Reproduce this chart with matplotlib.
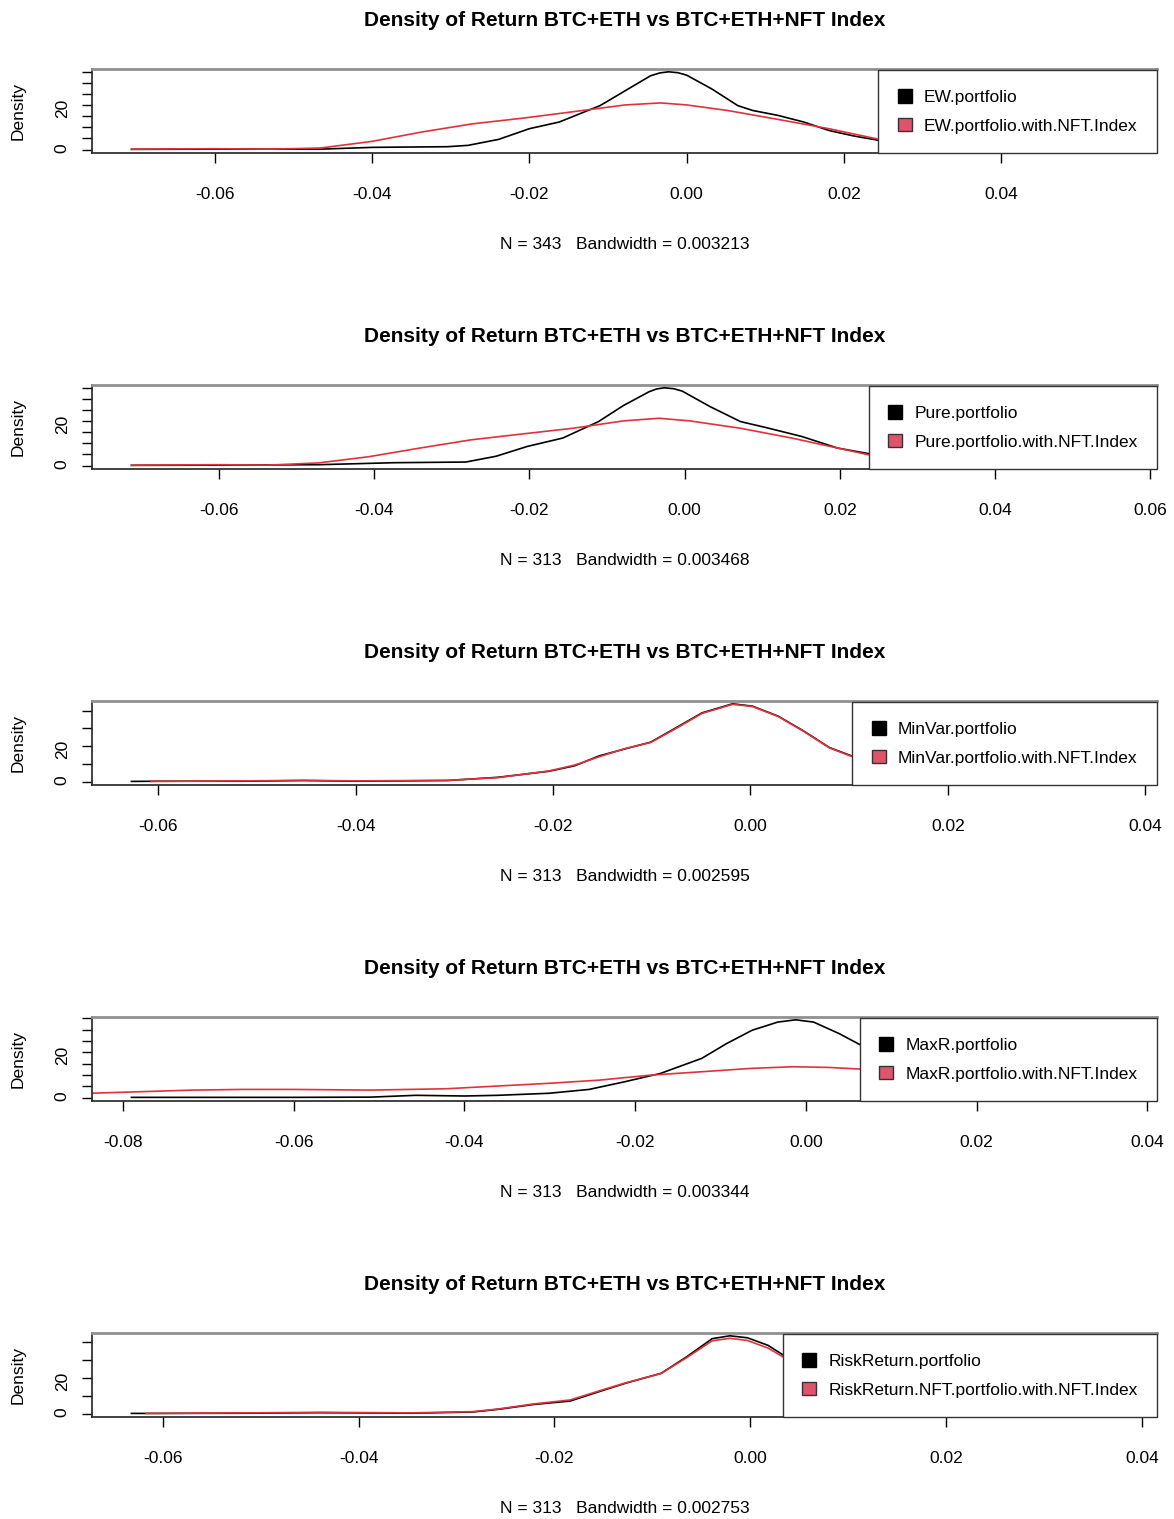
import matplotlib
matplotlib.use('Agg')
import matplotlib.pyplot as plt
from matplotlib.patches import Patch

plt.rcParams['font.family'] = ['Liberation Sans', 'DejaVu Sans']

title = 'Density of Return BTC+ETH vs BTC+ETH+NFT Index'

# EW portfolio
ew_x = [-0.0706, -0.0600, -0.0466, -0.0400, -0.0304, -0.0278, -0.0239, -0.0200, -0.0162, -0.0110,
        -0.0078, -0.0046, -0.0034, -0.0023, -0.0011, 0.0000, 0.0032, 0.0065, 0.0084, 0.0116,
        0.0149, 0.0181, 0.0213, 0.0257, 0.0300, 0.0350, 0.0400, 0.0450, 0.0500, 0.0548]
ew_y = [0.1, 0.2, 0.2, 1.0, 1.3, 1.9, 4.6, 9.4, 12.4, 19.8,
        26.5, 33.2, 34.5, 35.0, 34.6, 33.5, 27.3, 19.8, 17.6, 15.4,
        12.4, 8.6, 6.1, 3.4, 2.0, 1.2, 0.6, 0.3, 0.2, 0.1]
ew_nft_x = [-0.0706, -0.0600, -0.0530, -0.0466, -0.0400, -0.0337, -0.0272, -0.0207, -0.0143, -0.0078,
            -0.0033, 0.0000, 0.0052, 0.0116, 0.0181, 0.0257, 0.0300, 0.0350, 0.0400, 0.0450, 0.0500, 0.0551]
ew_nft_y = [0.2, 0.4, 0.2, 0.7, 3.7, 7.9, 11.6, 14.2, 17.1, 20.1,
            21.0, 20.1, 17.6, 13.6, 9.4, 3.7, 2.2, 1.2, 0.6, 0.3, 0.2, 0.1]

# Pure portfolio
pure_x = [-0.0713, -0.0600, -0.0472, -0.0374, -0.0282, -0.0243, -0.0203, -0.0157, -0.0111, -0.0079,
          -0.0046, -0.0036, -0.0026, -0.0014, -0.0003, 0.0033, 0.0072, 0.0105, 0.0151, 0.0197,
          0.0243, 0.0300, 0.0350, 0.0400, 0.0450, 0.0500, 0.0558]
pure_y = [0.1, 0.2, 0.4, 1.3, 1.6, 4.2, 8.6, 12.4, 19.8, 27.0,
          33.2, 34.5, 35.0, 34.6, 33.5, 26.5, 19.8, 17.1, 13.1, 7.9,
          5.0, 2.4, 1.3, 0.6, 0.3, 0.2, 0.1]
pure_nft_x = [-0.0713, -0.0600, -0.0538, -0.0472, -0.0407, -0.0341, -0.0275, -0.0210, -0.0144, -0.0079,
              -0.0033, 0.0007, 0.0072, 0.0138, 0.0197, 0.0243, 0.0300, 0.0350, 0.0400, 0.0450, 0.0500, 0.0560]
pure_nft_y = [0.2, 0.4, 0.2, 1.2, 4.0, 7.9, 11.6, 14.2, 16.8, 20.1,
              21.3, 20.1, 16.8, 12.4, 7.9, 4.4, 2.2, 1.2, 0.6, 0.3, 0.2, 0.1]

# MinVar portfolio
minvar_x = [-0.0627, -0.0600, -0.0514, -0.0452, -0.0400, -0.0307, -0.0256, -0.0204, -0.0178, -0.0153,
            -0.0127, -0.0101, -0.0075, -0.0049, -0.0018, 0.0002, 0.0028, 0.0054, 0.0080, 0.0111,
            0.0150, 0.0200, 0.0250, 0.0300, 0.0350, 0.0372]
minvar_y = [0.1, 0.2, 0.2, 0.6, 0.2, 0.6, 2.4, 5.8, 8.9, 14.5,
            18.4, 22.2, 30.4, 38.7, 43.8, 42.5, 36.9, 28.5, 19.2, 12.7,
            6.5, 2.5, 1.0, 0.4, 0.1, 0.05]
minvar_nft_x = [-0.0607, -0.0514, -0.0452, -0.0400, -0.0307, -0.0256, -0.0204, -0.0178, -0.0153, -0.0127,
                -0.0101, -0.0075, -0.0049, -0.0018, 0.0002, 0.0028, 0.0054, 0.0080, 0.0111, 0.0150,
                0.0200, 0.0250, 0.0300, 0.0350]
minvar_nft_y = [0.1, 0.4, 0.7, 0.4, 0.7, 2.2, 6.0, 9.3, 14.0, 18.6,
                22.0, 30.0, 38.4, 43.5, 42.3, 36.7, 28.3, 19.0, 12.4, 6.3,
                2.4, 1.0, 0.4, 0.1]

# MaxR portfolio
maxr_x = [-0.0790, -0.0600, -0.0510, -0.0457, -0.0400, -0.0361, -0.0301, -0.0254, -0.0212, -0.0170,
          -0.0122, -0.0093, -0.0063, -0.0033, -0.0012, 0.0009, 0.0039, 0.0072, 0.0100, 0.0150,
          0.0200, 0.0250, 0.0300, 0.0365]
maxr_y = [0.1, 0.1, 0.2, 1.0, 0.7, 1.0, 1.9, 3.6, 7.0, 10.7,
          17.3, 23.8, 29.7, 33.3, 34.3, 33.3, 28.2, 21.6, 16.0, 8.0,
          3.5, 1.5, 0.5, 0.1]
maxr_nft_x = [-0.0900, -0.0839, -0.0779, -0.0719, -0.0660, -0.0600, -0.0510, -0.0421, -0.0361, -0.0301,
              -0.0242, -0.0182, -0.0122, -0.0063, -0.0015, 0.0027, 0.0072, 0.0150, 0.0250, 0.0350, 0.0420]
maxr_nft_y = [1.4, 1.9, 2.6, 3.3, 3.6, 3.6, 3.3, 3.9, 5.1, 6.3,
              7.7, 9.9, 11.4, 12.9, 13.6, 13.3, 12.4, 10.0, 7.0, 4.5, 3.3]

# RiskReturn portfolio
rr_x = [-0.0632, -0.0600, -0.0517, -0.0439, -0.0345, -0.0283, -0.0257, -0.0221, -0.0184, -0.0153,
        -0.0127, -0.0091, -0.0065, -0.0039, -0.0021, -0.0003, 0.0018, 0.0039, 0.0060, 0.0100,
        0.0150, 0.0200, 0.0250, 0.0300, 0.0375]
rr_y = [0.1, 0.1, 0.2, 0.5, 0.2, 0.9, 2.4, 5.1, 7.0, 12.5,
        17.0, 22.5, 31.7, 41.8, 43.4, 42.3, 38.1, 30.8, 25.0, 14.0,
        6.0, 2.5, 1.0, 0.4, 0.1]
rr_nft_x = [-0.0617, -0.0517, -0.0439, -0.0345, -0.0283, -0.0257, -0.0221, -0.0184, -0.0153, -0.0127,
            -0.0091, -0.0065, -0.0039, -0.0021, -0.0003, 0.0018, 0.0039, 0.0060, 0.0100, 0.0150,
            0.0200, 0.0250, 0.0300, 0.0375]
rr_nft_y = [0.1, 0.4, 0.7, 0.4, 1.1, 2.6, 5.4, 7.6, 12.9, 17.2,
            22.4, 31.2, 40.6, 42.0, 40.8, 36.6, 29.8, 24.0, 13.5, 5.8,
            2.4, 1.0, 0.4, 0.1]

legend_labels = [
    ['EW.portfolio', 'EW.portfolio.with.NFT.Index'],
    ['Pure.portfolio', 'Pure.portfolio.with.NFT.Index'],
    ['MinVar.portfolio', 'MinVar.portfolio.with.NFT.Index'],
    ['MaxR.portfolio', 'MaxR.portfolio.with.NFT.Index'],
    ['RiskReturn.portfolio', 'RiskReturn.NFT.portfolio.with.NFT.Index'],
]
subtitles = [
    'N = 343   Bandwidth = 0.003213',
    'N = 313   Bandwidth = 0.003468',
    'N = 313   Bandwidth = 0.002595',
    'N = 313   Bandwidth = 0.003344',
    'N = 313   Bandwidth = 0.002753',
]
xticks = [
    [-0.06, -0.04, -0.02, 0.00, 0.02, 0.04],
    [-0.06, -0.04, -0.02, 0.00, 0.02, 0.04, 0.06],
    [-0.06, -0.04, -0.02, 0.00, 0.02, 0.04],
    [-0.08, -0.06, -0.04, -0.02, 0.00, 0.02, 0.04],
    [-0.06, -0.04, -0.02, 0.00, 0.02, 0.04],
]
yticks = [
    [0, 5, 10, 15, 20, 25, 30, 35],
    [0, 5, 10, 15, 20, 25, 30, 35],
    [0, 10, 20, 30, 40],
    [0, 5, 10, 15, 20, 25, 30, 35],
    [0, 10, 20, 30, 40],
]
ytick_labels = [
    ['0', '', '', '', '20', '', '', ''],
    ['0', '', '', '', '20', '', '', ''],
    ['0', '', '20', '', ''],
    ['0', '', '', '', '20', '', '', ''],
    ['0', '', '20', '', ''],
]

series = [
    (ew_x, ew_y, ew_nft_x, ew_nft_y),
    (pure_x, pure_y, pure_nft_x, pure_nft_y),
    (minvar_x, minvar_y, minvar_nft_x, minvar_nft_y),
    (maxr_x, maxr_y, maxr_nft_x, maxr_nft_y),
    (rr_x, rr_y, rr_nft_x, rr_nft_y),
]

red_line = '#E0323C'
red_fill = '#DF536B'

W, H = 1174, 1519
fig = plt.figure(figsize=(W / 100, H / 100), dpi=100)

for i, (bx, by, rx, ry) in enumerate(series):
    top = 68.7 + 316 * i
    ax = fig.add_axes([92 / W, 1 - (top + 84) / H, 1065 / W, 84 / H])

    ax.plot(bx, by, color='black', lw=1.2)
    ax.plot(rx, ry, color=red_line, lw=1.2)

    # R style limits: 4% padding around the first density
    pad = 0.04 * (max(bx) - min(bx))
    ax.set_xlim(min(bx) - pad, max(bx) + pad)
    ax.set_ylim(-0.04 * max(by), 1.04 * max(by))

    ax.set_xticks(xticks[i])
    ax.set_xticklabels([f'{v:.2f}' for v in xticks[i]])
    ax.set_yticks(yticks[i])
    ax.set_yticklabels(ytick_labels[i])
    ax.tick_params(axis='x', length=7, width=1, pad=18, labelsize=12.5)
    ax.tick_params(axis='y', length=7, width=1, pad=9, labelsize=12.5, labelrotation=90)

    for s in ['left', 'right', 'bottom']:
        ax.spines[s].set_color('#222222')
        ax.spines[s].set_linewidth(1.2)
    ax.spines['top'].set_color('#909090')
    ax.spines['top'].set_linewidth(2)

    ax.set_title(title, fontsize=15, fontweight='bold', pad=31)
    ax.text(-0.069, 0.5, 'Density', rotation=90, ha='center', va='center',
            transform=ax.transAxes, fontsize=12.5)
    ax.annotate(subtitles[i], xy=(0.5, 0), xycoords='axes fraction', xytext=(0, -69.5),
                textcoords='offset points', ha='center', va='baseline', fontsize=12.5)

    handles = [Patch(facecolor='black', edgecolor='black'),
               Patch(facecolor=red_fill, edgecolor='#333333')]
    leg = ax.legend(handles, legend_labels[i], loc='upper right', bbox_to_anchor=(1, 0.985),
                    borderaxespad=0, fontsize=12.5, handlelength=0.8, handleheight=0.8,
                    handletextpad=0.7, labelspacing=0.75, borderpad=1.12,
                    fancybox=False, framealpha=1, edgecolor='#333333')
    leg.get_frame().set_linewidth(1.0)

fig.savefig('out.png', dpi=100)
